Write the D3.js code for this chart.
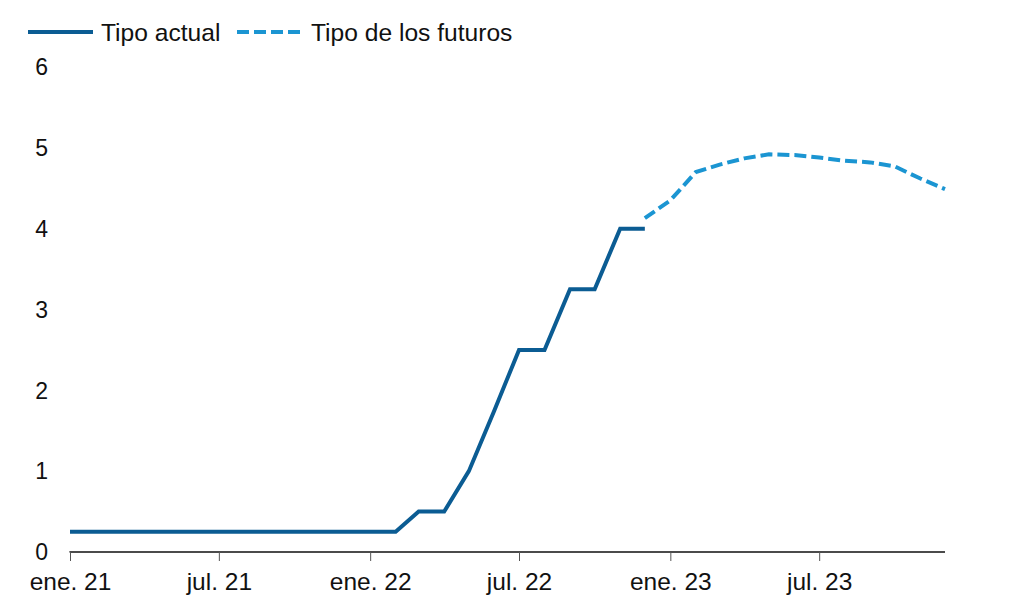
<!DOCTYPE html>
<html>
<head>
<meta charset="utf-8">
<script src="https://cdn.jsdelivr.net/npm/d3@7"></script>
<style>
  body { margin: 0; background: #fff; }
  svg { display: block; font-family: "Liberation Sans", Arial, sans-serif; }
</style>
</head>
<body>
<svg id="chart" width="1014" height="610"></svg>
<script>
// Data
const actualDates = ["2021-01","2021-02","2021-03","2021-04","2021-05","2021-06","2021-07","2021-08","2021-09","2021-10","2021-11","2021-12",
  "2022-01","2022-02","2022-03","2022-04","2022-05","2022-06","2022-07","2022-08","2022-09","2022-10","2022-11","2022-12"];
const actualValues = [0.25,0.25,0.25,0.25,0.25,0.25,0.25,0.25,0.25,0.25,0.25,0.25,
  0.25,0.25,0.5,0.5,1.0,1.75,2.5,2.5,3.25,3.25,4.0,4.0];
const futuresDates = ["2022-12","2023-01","2023-02","2023-03","2023-04","2023-05","2023-06","2023-07","2023-08","2023-09","2023-10","2023-11","2023-12"];
const futuresValues = [4.13,4.35,4.70,4.79,4.87,4.92,4.91,4.88,4.84,4.82,4.77,4.62,4.49];
const xTickDates = ["2021-01","2021-07","2022-01","2022-07","2023-01","2023-07"];
const xTickLabels = ["ene. 21","jul. 21","ene. 22","jul. 22","ene. 23","jul. 23"];
const yTicks = [0,1,2,3,4,5,6];
const seriesNames = ["Tipo actual","Tipo de los futuros"];

const parse = d3.timeParse("%Y-%m");
const svg = d3.select("#chart");
const margin = {left: 70, right: 69, top: 67, bottom: 58};
const W = 1014, H = 610;

const x = d3.scaleTime()
  .domain([parse("2021-01"), parse("2023-12")])
  .range([margin.left, W - margin.right]);
const y = d3.scaleLinear().domain([0, 6]).range([H - margin.bottom, margin.top]);

const colActual = "#0b5c93";
const colFut = "#1b95d2";

// Y labels
svg.append("g").selectAll("text").data(yTicks).join("text")
  .attr("x", 48).attr("y", d => y(d)).attr("dy", "0.36em")
  .attr("text-anchor", "end").attr("font-size", 23).attr("fill", "#111")
  .text(d => d);

// X axis
const xAxis = d3.axisBottom(x)
  .tickValues(xTickDates.map(parse))
  .tickFormat((d, i) => xTickLabels[i])
  .tickSize(9).tickPadding(12);
const gx = svg.append("g").attr("transform", `translate(0,${y(0)})`).call(xAxis);
gx.select(".domain").attr("stroke", "#111").attr("stroke-width", 1.3).attr("d", `M${x.range()[0]},0.5V0H${x.range()[1]}`);
gx.selectAll(".tick line").attr("stroke", "#555").attr("stroke-width", 1);
gx.selectAll(".tick text").attr("font-size", 24.5).attr("fill", "#111").attr("font-family", "'Liberation Sans', Arial, sans-serif");

// Lines
const line = d3.line().x(d => x(d[0])).y(d => y(d[1]));
svg.append("path")
  .datum(actualDates.map((d, i) => [parse(d), actualValues[i]]))
  .attr("d", line).attr("fill", "none").attr("stroke", colActual)
  .attr("stroke-width", 4).attr("stroke-linejoin", "miter");
svg.append("path")
  .datum(futuresDates.map((d, i) => [parse(d), futuresValues[i]]))
  .attr("d", line).attr("fill", "none").attr("stroke", colFut)
  .attr("stroke-width", 4).attr("stroke-dasharray", "12,5");

// Legend
const lg = svg.append("g");
lg.append("line").attr("x1", 28).attr("x2", 93).attr("y1", 32).attr("y2", 32)
  .attr("stroke", colActual).attr("stroke-width", 4);
lg.append("text").attr("x", 101).attr("y", 32).attr("dy", "0.36em")
  .attr("font-size", 24.6).attr("fill", "#111").text(seriesNames[0]);
lg.append("line").attr("x1", 237).attr("x2", 302).attr("y1", 32).attr("y2", 32)
  .attr("stroke", colFut).attr("stroke-width", 4).attr("stroke-dasharray", "12,5");
lg.append("text").attr("x", 311).attr("y", 32).attr("dy", "0.36em")
  .attr("font-size", 24.6).attr("fill", "#111").text(seriesNames[1]);
</script>
</body>
</html>
